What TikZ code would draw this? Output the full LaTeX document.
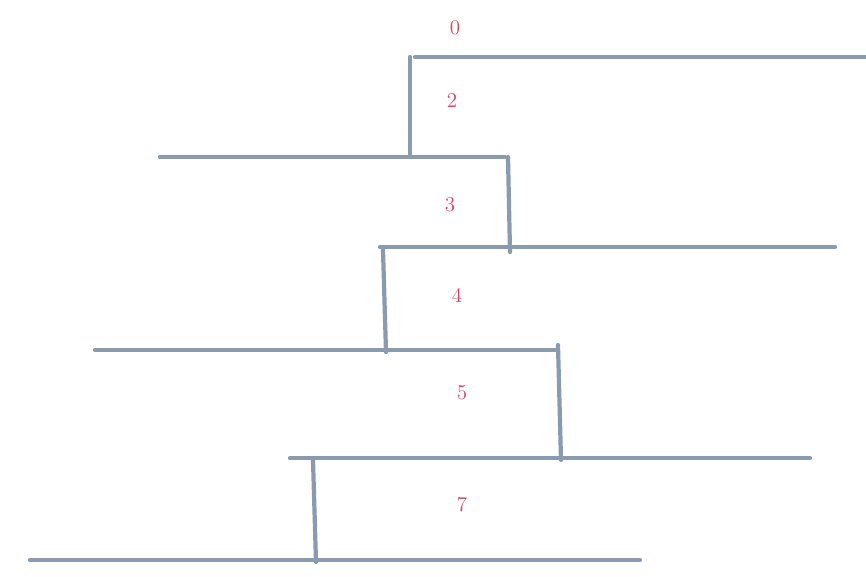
\documentclass[tikz,border=0pt]{standalone}
\usetikzlibrary{positioning}
\definecolor{slate}{HTML}{8A9BB0}
\definecolor{rosered}{HTML}{D2466A}
\tikzset{
  stairline/.style={draw=slate,line width=2.4pt,line cap=round},
  levellabel/.style={text=rosered,font=\large,inner sep=1pt}
}
\begin{document}
\begin{tikzpicture}[x=0.02cm,y=-0.02cm]
\useasboundingbox (0,0) rectangle (866,576);
% levels
\coordinate (l1a) at (415,57);  \coordinate (l1b) at (866,57);
\coordinate (l2a) at (160,157); \coordinate (l2b) at (505,157);
\coordinate (l3a) at (380,247); \coordinate (l3b) at (835,247);
\coordinate (l4a) at (95,350);  \coordinate (l4b) at (555,350);
\coordinate (l5a) at (290,458); \coordinate (l5b) at (810,458);
\coordinate (l6a) at (30,560);  \coordinate (l6b) at (640,560);
\draw[stairline] (l1a) -- (l1b);
\draw[stairline] (l2a) -- (l2b);
\draw[stairline] (l3a) -- (l3b);
\draw[stairline] (l4a) -- (l4b);
\draw[stairline] (l5a) -- (l5b);
\draw[stairline] (l6a) -- (l6b);
% risers
\draw[stairline] (410,57) -- (410,157);
\draw[stairline] (508,157) -- (510,252);
\draw[stairline] (383,250) -- (386,352);
\draw[stairline] (558,345) -- (561,460);
\draw[stairline] (313,460) -- (316,562);
% labels
\node[levellabel] (n0) at (455,28) {0};
\node[levellabel] (n2) at (452,100) {2};
\node[levellabel] (n3) at (450,205) {3};
\node[levellabel] (n4) at (457,295) {4};
\node[levellabel] (n5) at (462,393) {5};
\node[levellabel] (n7) at (462,505) {7};
\end{tikzpicture}
\end{document}
